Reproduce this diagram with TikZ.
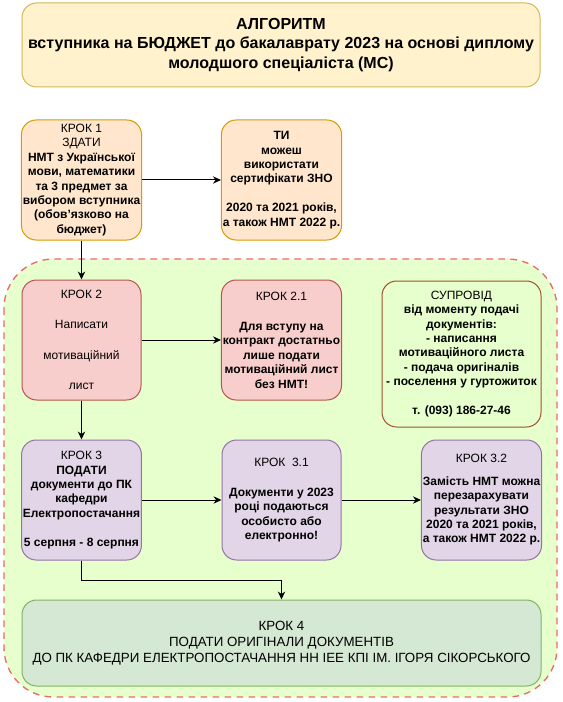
\documentclass[tikz,border=0pt]{standalone}
\usepackage{fontspec}
\setmainfont{Liberation Sans}
\usetikzlibrary{arrows.meta}
\definecolor{ylfill}{HTML}{FFF2CC}
\definecolor{yldraw}{HTML}{D6B656}
\definecolor{orfill}{HTML}{FFE6CC}
\definecolor{ordraw}{HTML}{D79B00}
\definecolor{rdfill}{HTML}{F8CECC}
\definecolor{rddraw}{HTML}{B85450}
\definecolor{vifill}{HTML}{E1D5E7}
\definecolor{vidraw}{HTML}{9673A6}
\definecolor{gnfill}{HTML}{D5E8D4}
\definecolor{gndraw}{HTML}{82B366}
\definecolor{zonefill}{HTML}{E6FFCC}
\definecolor{zonedraw}{HTML}{EA6B66}
\definecolor{spdraw}{HTML}{A0522D}
\tikzset{bx/.append style={draw, line width=0.75pt, rounded corners=11pt, align=center, inner sep=1pt,
  minimum width=89.25pt, minimum height=90pt, font=\fontsize{9}{10.8}\selectfont}}
\tikzset{bb/.append style={font=\bfseries\fontsize{9}{10.8}\selectfont}}
\tikzset{yl/.append style={fill=ylfill, draw=yldraw}}
\tikzset{orng/.append style={fill=orfill, draw=ordraw}}
\tikzset{rd/.append style={fill=rdfill, draw=rddraw}}
\tikzset{vi/.append style={fill=vifill, draw=vidraw}}
\tikzset{gn/.append style={fill=gnfill, draw=gndraw}}
\tikzset{sp/.append style={fill=zonefill, draw=spdraw}}
\tikzset{ar/.append style={->, line width=0.75pt, >={Stealth[length=6pt,width=5.5pt]}}}

\begin{document}
\begin{tikzpicture}[x=0.75pt,y=-0.75pt]
                \useasboundingbox (0,0) rectangle (562,702);
                % supervision zone
                \draw[fill=zonefill, draw=zonedraw, line width=1pt, dash pattern=on 5pt off 4pt, rounded corners=37pt] (4,259) rectangle (557,697);
                % top row
                \node[bx,yl,minimum width=388.5pt,minimum height=63pt,font=\bfseries\fontsize{12}{14.4}\selectfont] (title) at (281,45)
                  {АЛГОРИТМ\\вступника на БЮДЖЕТ до бакалаврату 2023 на основі диплому\\молодшого спеціаліста (МС)};
                \node[bx,bb,orng] (krok1) at (81.5,180) {\mdseries КРОК 1\\\mdseries ЗДАТИ\\НМТ з Української\\мови, математики\\та 3 предмет за\\вибором вступника\\(обов'язково на\\бюджет)};
                \node[bx,bb,orng] (tu) at (281.5,180) {ТИ\\можеш\\використати\\сертифікати ЗНО\\[10.8pt]2020 та 2021 років,\\а також НМТ 2022 р.};
                % inside the zone
                \node[bx,rd] (krok2) at (81.5,340) {КРОК 2\\[12pt]Написати\\[12pt]мотиваційний\\[12pt]лист};
                \node[bx,bb,rd] (krok21) at (281.5,340) {\mdseries КРОК 2.1\\[12pt]Для вступу на\\контракт достатньо\\лише подати\\мотиваційний лист\\без НМТ!};
                \node[bx,bb,sp,minimum width=119.25pt,minimum height=109.5pt] (suprovid) at (461.5,354) {\mdseries СУПРОВІД\\від моменту подачі\\документів:\\- написання\\мотиваційного листа\\- подача оригіналів\\- поселення у гуртожиток\\[10.8pt]т. (093) 186-27-46};
                \node[bx,bb,vi] (krok3) at (81.5,500) {\mdseries КРОК 3\\ПОДАТИ\\документи до ПК\\кафедри\\Електропостачання\\[10.8pt]5 серпня - 8 серпня};
                \node[bx,bb,vi] (krok31) at (281.5,500) {\mdseries КРОК~~3.1\\[12pt]Документи у 2023\\році подаються\\особисто або\\електронно!};
                \node[bx,bb,vi] (krok32) at (481.5,500) {\mdseries КРОК 3.2\\[6pt]Замість НМТ можна\\перезарахувати\\результати ЗНО\\2020 та 2021 років,\\а також НМТ 2022 р.};
                \node[bx,gn,minimum width=389.25pt,minimum height=64.5pt,font=\fontsize{10}{12}\selectfont] (krok4) at (281.5,643)
                  {КРОК 4\\ПОДАТИ ОРИГІНАЛИ ДОКУМЕНТІВ\\ДО ПК КАФЕДРИ ЕЛЕКТРОПОСТАЧАННЯ НН ІЕЕ КПІ ІМ. ІГОРЯ СІКОРСЬКОГО};
                % arrows
                \path (krok1) edge[ar] (tu);
                \path (krok1) edge[ar] (krok2);
                \path (krok2) edge[ar] (krok21);
                \path (krok2) edge[ar] (krok3);
                \path (krok3) edge[ar] (krok31);
                \path (krok31) edge[ar] (krok32);
                \draw[ar] (krok3.south) -- ++(0,20) -| (krok4.north);
\end{tikzpicture}
\end{document}
